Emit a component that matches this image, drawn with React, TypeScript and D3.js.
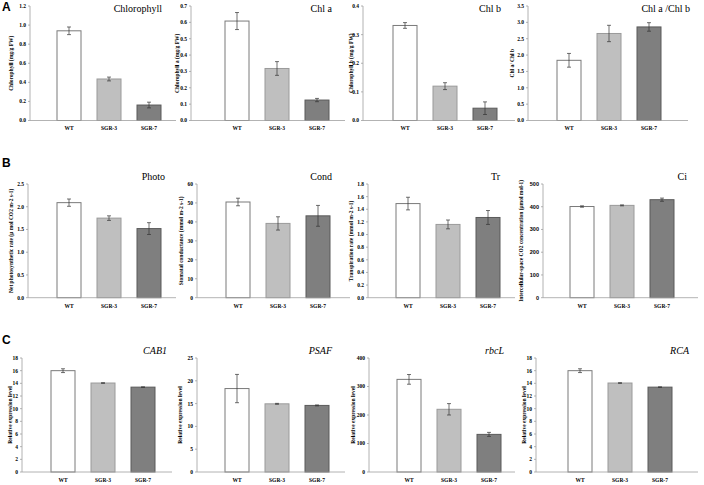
import React from "react";
import * as d3 from "d3";

// genotypes on every x axis
const groups = ["WT", "SGR-3", "SGR-7"];

// A: pigment content
const chlorophyllMean = [0.94, 0.435, 0.162];
const chlorophyllErr = [0.04, 0.02, 0.03];
const chlAMean = [0.608, 0.318, 0.125];
const chlAErr = [0.052, 0.042, 0.01];
const chlBMean = [0.332, 0.12, 0.043];
const chlBErr = [0.01, 0.012, 0.022];
const ratioMean = [1.84, 2.66, 2.86];
const ratioErr = [0.21, 0.25, 0.13];

// B: gas exchange
const photoMean = [2.09, 1.75, 1.52];
const photoErr = [0.08, 0.05, 0.13];
const condMean = [50.5, 39.2, 43.2];
const condErr = [2.0, 3.5, 5.5];
const trMean = [1.49, 1.16, 1.27];
const trErr = [0.1, 0.07, 0.11];
const ciMean = [401, 406, 431];
const ciErr = [3, 2, 7];

// C: relative expression
const cab1Mean = [16.0, 14.05, 13.4];
const cab1Err = [0.3, 0.05, 0.05];
const psafMean = [18.3, 14.95, 14.6];
const psafErr = [3.1, 0.1, 0.1];
const rbclMean = [325, 220, 132];
const rbclErr = [17, 20, 7];
const rcaMean = [16.0, 14.05, 13.4];
const rcaErr = [0.3, 0.05, 0.05];

const panels = [
  { title: "Chlorophyll", yLabel: "Chlorophyll (mg/g FW)", max: 1.2, step: 0.2, fmt: ".1f", mean: chlorophyllMean, err: chlorophyllErr },
  { title: "Chl a", yLabel: "Chlorophyll a (mg/g FW)", max: 0.7, step: 0.1, fmt: ".1f", mean: chlAMean, err: chlAErr },
  { title: "Chl b", yLabel: "Chlorophyll b (mg/g FW)", max: 0.4, step: 0.1, fmt: ".1f", mean: chlBMean, err: chlBErr },
  { title: "Chl a /Chl b", yLabel: "Chl a/ Chl b", max: 3.5, step: 0.5, fmt: ".1f", mean: ratioMean, err: ratioErr },
  { title: "Photo", yLabel: "Net photosynthetic rate (μ mol CO2 m-2 s-1)", max: 2.5, step: 0.5, fmt: ".1f", mean: photoMean, err: photoErr },
  { title: "Cond", yLabel: "Stomatal conductance (mmol m-2 s-1)", max: 60, step: 10, fmt: "d", mean: condMean, err: condErr },
  { title: "Tr", yLabel: "Transpiration rate (mmol m-2 s-1)", max: 1.8, step: 0.2, fmt: ".1f", mean: trMean, err: trErr },
  { title: "Ci", yLabel: "Intercellular-space CO2 concentration (μmol mol-1)", max: 500, step: 100, fmt: "d", mean: ciMean, err: ciErr },
  { title: "CAB1", yLabel: "Relative expression level", max: 18, step: 2, fmt: "d", mean: cab1Mean, err: cab1Err },
  { title: "PSAF", yLabel: "Relative expression level", max: 25, step: 5, fmt: "d", mean: psafMean, err: psafErr },
  { title: "rbcL", yLabel: "Relative expression level", max: 400, step: 100, fmt: "d", mean: rbclMean, err: rbclErr },
  { title: "RCA", yLabel: "Relative expression level", max: 18, step: 2, fmt: "d", mean: rcaMean, err: rcaErr },
];

// page layout (pixels)
const rows = [
  { letter: "A", letterY: 11, top: 6, base: 120.5, catY: 130, titleY: 12, italic: false },
  { letter: "B", letterY: 167, top: 184, base: 297.7, catY: 308, titleY: 180, italic: false },
  { letter: "C", letterY: 344, top: 358, base: 472, catY: 482, titleY: 354, italic: true },
];
const layout = [
  { axisX: 30, barX: 57, endX: 176, titleX: 162, labelX: 11 },
  { axisX: 191, barX: 225, endX: 345, titleX: 332, labelX: 177 },
  { axisX: 363, barX: 393, endX: 515, titleX: 501, labelX: 351 },
  { axisX: 528, barX: 557, endX: 688, titleX: 690, labelX: 512 },
  { axisX: 28, barX: 57, endX: 176, titleX: 165, labelX: 11 },
  { axisX: 197, barX: 226, endX: 350, titleX: 332, labelX: 181 },
  { axisX: 368, barX: 396, endX: 515, titleX: 500, labelX: 351 },
  { axisX: 543, barX: 570, endX: 698, titleX: 687, labelX: 521, sans: true },
  { axisX: 22, barX: 51, endX: 172, titleX: 167, labelX: 10 },
  { axisX: 197, barX: 225, endX: 345, titleX: 332, labelX: 180 },
  { axisX: 369, barX: 397, endX: 515, titleX: 504, labelX: 353 },
  { axisX: 536, barX: 568, endX: 698, titleX: 689, labelX: 524 },
];

const fills = ["#ffffff", "#bfbfbf", "#7f7f7f"];
const strokes = ["#7a7a7a", "#9a9a9a", "#5a5a5a"];
const serif = "'Liberation Serif', 'Times New Roman', serif";
const sans = "'Liberation Sans', Arial, sans-serif";

function Panel({ p, l, r }: any) {
  const x = d3
    .scaleBand<string>()
    .domain(groups)
    .range([l.barX - 8, l.barX + 112])
    .paddingInner(0.4)
    .paddingOuter(0.2);
  const y = d3.scaleLinear().domain([0, p.max]).range([r.base, r.top]);
  const ticks = d3.range(0, p.max + p.step / 2, p.step);
  const f = d3.format(p.fmt);
  const midY = (r.top + r.base) / 2;
  return (
    <g>
      {groups.map((g, i) => {
        const cx = x(g)! + x.bandwidth() / 2;
        const lo = y(p.mean[i] - p.err[i]);
        const hi = y(p.mean[i] + p.err[i]);
        return (
          <g key={g}>
            <rect
              x={x(g)}
              y={y(p.mean[i])}
              width={x.bandwidth()}
              height={r.base - y(p.mean[i])}
              fill={fills[i]}
              stroke={strokes[i]}
              strokeWidth={1}
            />
            <line x1={cx} x2={cx} y1={lo} y2={hi} stroke="#333" strokeWidth={0.7} />
            <line x1={cx - 2} x2={cx + 2} y1={lo} y2={lo} stroke="#333" strokeWidth={0.7} />
            <line x1={cx - 2} x2={cx + 2} y1={hi} y2={hi} stroke="#333" strokeWidth={0.7} />
            <text
              x={cx}
              y={r.catY}
              textAnchor="middle"
              fontFamily={serif}
              fontWeight="bold"
              fontSize={5.5}
            >
              {g}
            </text>
          </g>
        );
      })}
      <line x1={l.axisX} x2={l.axisX} y1={r.top} y2={r.base} stroke="#a0a0a0" strokeWidth={0.8} />
      <line x1={l.axisX} x2={l.endX} y1={r.base} y2={r.base} stroke="#a0a0a0" strokeWidth={0.8} />
      {ticks.map((t) => (
        <g key={t}>
          <line x1={l.axisX - 2} x2={l.axisX} y1={y(t)} y2={y(t)} stroke="#a0a0a0" strokeWidth={0.8} />
          <text
            x={l.axisX - 4}
            y={y(t)}
            dy="0.35em"
            textAnchor="end"
            fontFamily={l.sans ? sans : serif}
            fontWeight="bold"
            fontSize={5.5}
          >
            {f(t)}
          </text>
        </g>
      ))}
      <text
        transform={`translate(${l.labelX},${midY}) rotate(-90)`}
        textAnchor="middle"
        dy="0.35em"
        fontFamily={serif}
        fontWeight="bold"
        fontSize={5.5}
      >
        {p.yLabel}
      </text>
      <text
        x={l.titleX}
        y={r.titleY}
        textAnchor="end"
        fontFamily={serif}
        fontStyle={r.italic ? "italic" : "normal"}
        fontSize={10}
      >
        {p.title}
      </text>
    </g>
  );
}

export default function App() {
  return (
    <svg
      width={704}
      height={485}
      style={{ position: "absolute", left: 0, top: 0, background: "#fff" }}
    >
      {rows.map((r) => (
        <text
          key={r.letter}
          x={2}
          y={r.letterY}
          fontFamily={sans}
          fontWeight="bold"
          fontSize={12}
        >
          {r.letter}
        </text>
      ))}
      {panels.map((p, i) => (
        <Panel key={i} p={p} l={layout[i]} r={rows[Math.floor(i / 4)]} />
      ))}
    </svg>
  );
}
